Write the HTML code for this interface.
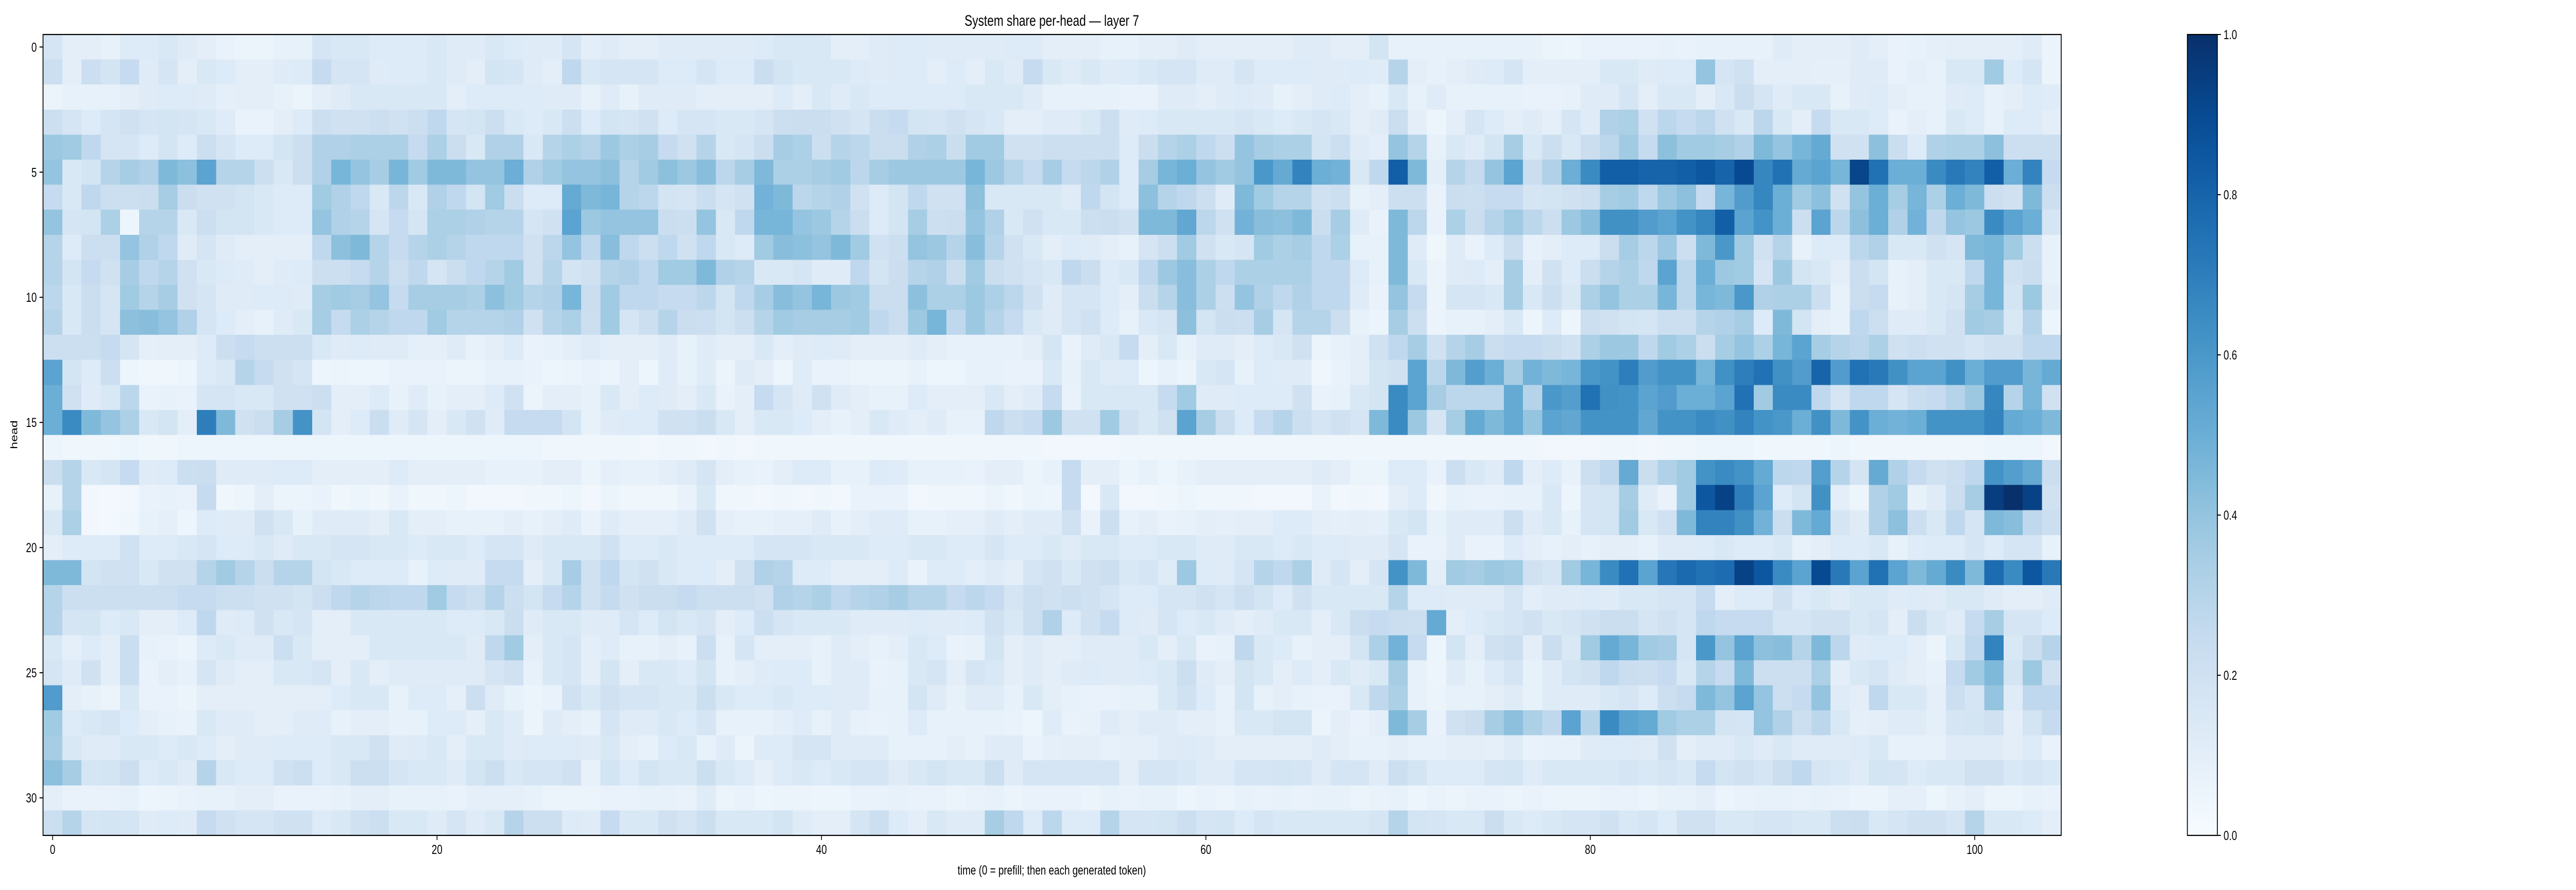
<!DOCTYPE html>
<html>
<head>
<meta charset="utf-8">
<meta name="viewport" content="width=6615, initial-scale=1">
<style>
html,body{margin:0;padding:0;background:#fff;width:100%;height:100%;overflow:hidden;}
svg{display:block;width:100vw;height:100vh;font-family:"Liberation Sans","DejaVu Sans",sans-serif;}
</style>
</head>
<body>
<svg id="chart" viewBox="0 0 6615 1728" preserveAspectRatio="none" xmlns="http://www.w3.org/2000/svg">
  <rect x="0" y="0" width="6615" height="1728" fill="#fff"/>
  <text x="2701" y="50" font-size="30" text-anchor="middle" fill="#000">System share per-head — layer 7</text>
  <g id="cells" shape-rendering="crispEdges"></g>
  <g id="axes"></g>
  <text x="2701" y="1698" font-size="25" text-anchor="middle" fill="#000">time (0 = prefill; then each generated token)</text>
  <text x="0" y="0" font-size="25" text-anchor="middle" fill="#000" transform="translate(44,844) rotate(-90)">head</text>
  <g id="colorbar"></g>
</svg>
<script>
const xTicks = [0, 20, 40, 60, 80, 100];
const yTicks = [0, 5, 10, 15, 20, 25, 30];
const cbTicks = [0.0, 0.2, 0.4, 0.6, 0.8, 1.0];
const cbTickLabels = ["0.0", "0.2", "0.4", "0.6", "0.8", "1.0"];
const vmin = 0, vmax = 1;

const row0 = [.17,.1,.1,.08,.13,.13,.15,.12,.1,.07,.06,.06,.08,.08,.17,.15,.15,.13,.13,.13,.15,.12,.12,.15,.13,.12, .12,.17,.1,.12,.1,.1,.12,.12,.12,.12,.12,.13,.15,.15,.15,.1,.1,.12,.13,.13,.12,.12,.12,.12,.13,.13, .1,.1,.1,.08,.08,.1,.1,.12,.1,.1,.1,.1,.1,.12,.12,.1,.1,.18,.08,.08,.08,.08,.08,.08,.08,.08, .06,.05,.07,.07,.07,.07,.08,.07,.08,.08,.08,.08,.12,.1,.1,.1,.12,.1,.07,.08,.09,.1,.1,.1,.1,.12,.06];
const row1 = [.22,.1,.22,.18,.25,.12,.17,.1,.15,.13,.1,.1,.12,.13,.25,.17,.17,.12,.13,.13,.15,.12,.1,.18,.17,.12, .1,.27,.15,.17,.17,.17,.13,.13,.17,.13,.13,.23,.18,.15,.15,.15,.13,.12,.13,.13,.1,.13,.1,.15,.12,.25, .15,.12,.15,.12,.13,.15,.17,.17,.12,.12,.17,.13,.13,.13,.12,.12,.13,.12,.3,.1,.08,.1,.12,.13,.17,.1, .1,.1,.1,.15,.15,.12,.13,.13,.4,.17,.2,.1,.1,.1,.09,.09,.12,.12,.07,.09,.08,.15,.15,.37,.13,.17,.06];
const row2 = [.06,.08,.08,.08,.1,.12,.13,.13,.12,.09,.1,.1,.08,.06,.1,.12,.15,.15,.15,.15,.15,.1,.13,.13,.13,.13, .12,.12,.08,.12,.08,.12,.12,.12,.1,.1,.1,.1,.13,.1,.15,.12,.15,.13,.13,.13,.13,.13,.15,.15,.15,.12, .08,.08,.08,.08,.07,.07,.12,.12,.1,.12,.13,.12,.08,.1,.12,.13,.1,.08,.15,.08,.12,.08,.08,.08,.08,.07, .07,.08,.12,.12,.17,.1,.15,.15,.1,.15,.23,.17,.12,.15,.15,.08,.12,.13,.1,.08,.08,.12,.13,.08,.1,.13,.12];
const row3 = [.22,.17,.13,.17,.2,.17,.18,.17,.15,.12,.07,.07,.1,.13,.22,.2,.2,.22,.2,.22,.27,.17,.18,.22,.15,.13, .15,.22,.13,.18,.17,.2,.13,.17,.17,.15,.15,.17,.22,.23,.23,.2,.17,.23,.25,.18,.17,.2,.17,.15,.1,.1, .12,.12,.15,.22,.12,.13,.15,.15,.15,.15,.17,.15,.13,.15,.17,.15,.1,.12,.23,.1,.05,.1,.17,.13,.1,.12, .09,.17,.12,.32,.33,.2,.28,.25,.28,.2,.15,.28,.15,.1,.25,.15,.15,.13,.07,.1,.08,.15,.13,.08,.13,.13,.1];
const row4 = [.38,.37,.27,.17,.17,.13,.18,.13,.22,.17,.13,.13,.18,.22,.32,.32,.33,.33,.33,.25,.33,.23,.15,.32,.32,.15, .3,.33,.3,.38,.33,.35,.25,.2,.3,.15,.17,.23,.35,.33,.22,.3,.28,.23,.23,.32,.33,.23,.37,.37,.2,.2, .22,.22,.22,.22,.13,.23,.3,.33,.27,.22,.4,.35,.33,.33,.18,.22,.12,.1,.4,.3,.08,.15,.12,.18,.35,.15, .22,.15,.23,.28,.37,.25,.42,.37,.37,.35,.32,.45,.4,.47,.52,.2,.2,.42,.23,.13,.32,.33,.33,.42,.22,.22,.22];
const row5 = [.4,.15,.18,.3,.35,.32,.45,.42,.55,.3,.3,.22,.15,.22,.32,.47,.4,.35,.47,.37,.45,.45,.4,.4,.5,.32, .37,.4,.4,.42,.3,.37,.42,.38,.43,.28,.35,.45,.33,.33,.35,.37,.28,.35,.38,.38,.38,.38,.47,.38,.3,.25, .35,.25,.28,.32,.13,.35,.47,.5,.4,.37,.4,.6,.52,.68,.5,.48,.15,.27,.82,.45,.1,.3,.25,.4,.55,.23, .32,.5,.65,.82,.82,.8,.8,.82,.85,.8,.9,.67,.75,.52,.55,.47,.92,.75,.5,.5,.65,.72,.68,.82,.5,.68,.25];
const row6 = [.25,.15,.27,.22,.22,.23,.35,.23,.2,.2,.18,.15,.13,.13,.37,.32,.27,.15,.28,.15,.32,.27,.18,.37,.23,.13, .13,.52,.45,.47,.3,.28,.18,.17,.23,.17,.2,.48,.45,.28,.3,.32,.2,.13,.18,.27,.2,.2,.42,.15,.15,.15, .15,.12,.27,.18,.13,.42,.3,.27,.22,.12,.45,.37,.3,.3,.2,.22,.08,.1,.22,.22,.07,.23,.22,.25,.25,.17, .18,.2,.22,.35,.37,.27,.38,.42,.25,.47,.58,.67,.5,.37,.42,.2,.4,.5,.35,.47,.33,.5,.45,.22,.2,.45,.22];
const row7 = [.4,.17,.18,.33,.05,.3,.3,.15,.22,.18,.18,.15,.13,.13,.4,.32,.3,.17,.25,.17,.33,.33,.32,.3,.3,.17, .2,.55,.38,.4,.4,.4,.23,.22,.4,.15,.27,.47,.47,.4,.38,.3,.23,.13,.18,.35,.22,.23,.4,.32,.15,.2, .15,.15,.22,.23,.2,.45,.45,.53,.28,.2,.48,.43,.42,.45,.23,.35,.12,.07,.45,.28,.07,.33,.23,.3,.37,.28, .22,.38,.43,.63,.63,.58,.55,.62,.67,.82,.55,.62,.5,.22,.55,.28,.42,.5,.32,.48,.27,.4,.38,.65,.55,.5,.17];
const row8 = [.3,.13,.22,.22,.4,.32,.27,.12,.17,.12,.1,.1,.1,.1,.27,.42,.45,.3,.25,.3,.33,.3,.27,.27,.27,.2, .28,.4,.27,.43,.27,.22,.27,.2,.27,.15,.13,.37,.43,.42,.4,.45,.37,.2,.22,.4,.38,.3,.43,.3,.2,.15, .1,.13,.12,.1,.08,.17,.22,.37,.2,.15,.17,.37,.33,.35,.27,.33,.08,.08,.45,.12,.04,.12,.07,.13,.23,.08, .1,.13,.13,.23,.35,.28,.38,.22,.45,.6,.37,.2,.3,.08,.13,.13,.28,.32,.15,.15,.2,.17,.45,.47,.37,.22,.08];
const row9 = [.3,.18,.25,.2,.35,.27,.3,.2,.15,.13,.12,.1,.12,.13,.22,.22,.25,.3,.22,.27,.17,.23,.27,.3,.37,.2, .3,.18,.2,.3,.32,.27,.37,.37,.45,.32,.3,.15,.15,.17,.12,.12,.27,.18,.23,.3,.32,.23,.37,.23,.2,.17, .15,.27,.23,.13,.15,.27,.38,.43,.33,.27,.33,.33,.33,.33,.27,.27,.13,.08,.45,.15,.06,.12,.13,.1,.35,.1, .2,.13,.23,.3,.33,.27,.55,.28,.5,.38,.37,.17,.38,.18,.15,.1,.23,.18,.08,.1,.15,.15,.27,.47,.2,.23,.08];
const row10 = [.28,.15,.23,.17,.37,.3,.35,.2,.17,.12,.12,.13,.13,.12,.35,.37,.35,.4,.25,.35,.35,.35,.33,.42,.37,.3, .32,.47,.23,.37,.27,.27,.25,.25,.28,.18,.27,.35,.43,.4,.47,.38,.37,.23,.23,.42,.33,.33,.38,.33,.28,.2, .12,.17,.17,.13,.1,.23,.3,.43,.33,.22,.4,.32,.27,.32,.27,.27,.12,.07,.4,.25,.06,.17,.17,.15,.35,.15, .22,.15,.33,.4,.33,.33,.47,.28,.47,.45,.6,.32,.33,.33,.22,.08,.23,.25,.08,.1,.15,.17,.35,.47,.18,.38,.1];
const row11 = [.3,.15,.23,.17,.42,.43,.4,.32,.17,.13,.1,.08,.12,.15,.35,.25,.33,.3,.27,.27,.37,.3,.3,.3,.32,.2, .3,.33,.22,.37,.17,.22,.3,.23,.22,.18,.22,.3,.37,.35,.35,.35,.37,.27,.23,.38,.47,.27,.38,.3,.25,.15, .12,.17,.2,.13,.08,.15,.17,.42,.18,.23,.22,.35,.17,.3,.3,.22,.08,.06,.35,.22,.06,.08,.08,.1,.15,.05, .13,.05,.22,.2,.18,.17,.22,.22,.3,.32,.35,.13,.45,.18,.1,.08,.27,.22,.12,.12,.15,.2,.37,.35,.15,.3,.05];
const row12 = [.22,.22,.22,.25,.17,.09,.1,.1,.13,.22,.25,.22,.22,.22,.15,.12,.13,.12,.12,.09,.09,.12,.08,.1,.13,.07, .08,.1,.12,.1,.1,.1,.12,.08,.12,.1,.1,.15,.1,.12,.13,.12,.1,.1,.1,.12,.1,.08,.08,.08,.08,.1, .17,.07,.12,.15,.25,.1,.15,.08,.12,.12,.1,.13,.15,.2,.06,.08,.1,.2,.27,.35,.2,.3,.35,.23,.25,.25, .23,.2,.33,.38,.38,.27,.37,.33,.23,.35,.4,.33,.47,.55,.35,.3,.28,.33,.2,.22,.2,.2,.17,.2,.2,.27,.27];
const row13 = [.55,.18,.13,.22,.05,.04,.04,.05,.13,.15,.3,.25,.2,.17,.05,.06,.05,.05,.07,.07,.07,.06,.06,.08,.08,.07, .05,.06,.07,.06,.1,.05,.12,.08,.12,.06,.12,.1,.05,.12,.07,.07,.06,.06,.06,.08,.05,.05,.08,.08,.07,.07, .15,.08,.15,.12,.13,.05,.08,.06,.15,.17,.08,.13,.12,.12,.04,.07,.1,.18,.2,.55,.28,.45,.57,.5,.35,.48, .45,.47,.6,.62,.7,.58,.62,.62,.47,.63,.7,.75,.63,.58,.8,.58,.75,.72,.63,.55,.55,.63,.5,.58,.58,.47,.52];
const row14 = [.5,.2,.12,.15,.28,.07,.08,.07,.17,.17,.15,.15,.2,.2,.22,.1,.1,.13,.08,.12,.08,.1,.1,.13,.2,.06, .1,.1,.08,.15,.1,.13,.12,.1,.15,.07,.1,.25,.17,.12,.2,.12,.1,.08,.08,.13,.1,.1,.1,.15,.1,.12, .25,.07,.15,.15,.15,.15,.25,.37,.12,.12,.13,.13,.13,.2,.07,.08,.15,.18,.65,.55,.35,.28,.28,.28,.52,.3, .6,.57,.75,.63,.62,.55,.58,.5,.5,.55,.75,.37,.65,.65,.27,.17,.27,.27,.17,.23,.25,.3,.38,.67,.3,.47,.2];
const row15 = [.5,.65,.45,.4,.33,.15,.18,.1,.7,.45,.2,.23,.35,.62,.18,.1,.13,.23,.12,.17,.1,.15,.2,.12,.25,.25, .25,.18,.08,.12,.13,.13,.2,.2,.23,.15,.1,.15,.15,.13,.1,.08,.1,.15,.12,.1,.12,.08,.08,.27,.22,.25, .38,.2,.2,.37,.2,.15,.2,.55,.35,.23,.13,.25,.3,.22,.17,.2,.17,.45,.65,.38,.17,.35,.52,.45,.52,.4, .55,.53,.62,.62,.62,.53,.62,.62,.65,.63,.68,.62,.6,.5,.63,.45,.62,.5,.48,.5,.62,.62,.62,.68,.52,.5,.45];
const row16 = [.05,.04,.04,.04,.05,.04,.04,.05,.05,.05,.05,.05,.05,.05,.05,.05,.05,.05,.05,.05,.05,.05,.05,.05,.05,.05, .04,.04,.04,.04,.04,.03,.04,.04,.03,.04,.03,.04,.04,.04,.04,.04,.04,.04,.04,.04,.04,.04,.04,.04,.04,.04, .03,.03,.03,.03,.04,.04,.04,.04,.04,.04,.04,.04,.04,.04,.04,.04,.04,.04,.04,.04,.04,.04,.04,.04,.04,.04, .03,.03,.03,.04,.04,.03,.04,.04,.05,.05,.05,.04,.04,.04,.04,.05,.04,.04,.04,.04,.04,.04,.04,.05,.05,.05,.03];
const row17 = [.23,.3,.15,.17,.25,.12,.13,.22,.23,.12,.12,.12,.13,.13,.1,.1,.1,.1,.13,.1,.1,.1,.1,.08,.08,.08, .1,.1,.06,.09,.08,.08,.1,.12,.17,.1,.08,.07,.1,.13,.13,.08,.08,.13,.12,.08,.08,.08,.07,.1,.1,.06, .08,.25,.1,.1,.06,.08,.05,.08,.1,.1,.1,.1,.1,.1,.12,.1,.06,.06,.13,.13,.07,.22,.15,.12,.27,.1, .13,.08,.22,.27,.52,.23,.32,.37,.62,.65,.62,.52,.28,.27,.57,.3,.18,.52,.32,.25,.2,.22,.27,.62,.57,.52,.23];
const row18 = [.08,.3,.03,.02,.03,.07,.08,.07,.25,.04,.05,.1,.06,.06,.07,.04,.05,.04,.07,.04,.04,.05,.03,.03,.03,.04, .04,.05,.03,.06,.04,.04,.04,.07,.15,.04,.04,.03,.04,.03,.04,.03,.07,.07,.07,.03,.04,.04,.04,.06,.04,.06, .05,.25,.02,.15,.03,.03,.04,.05,.04,.04,.04,.03,.03,.03,.07,.03,.04,.03,.1,.13,.04,.08,.07,.07,.08,.08, .15,.05,.17,.18,.35,.12,.07,.37,.85,.93,.7,.55,.13,.18,.63,.1,.05,.32,.37,.08,.12,.23,.35,.95,1.0,.93,.2];
const row19 = [.15,.33,.03,.02,.04,.08,.09,.05,.13,.12,.12,.2,.15,.08,.12,.12,.12,.1,.15,.1,.1,.08,.08,.08,.1,.08, .1,.12,.07,.12,.09,.09,.09,.12,.2,.09,.08,.08,.09,.09,.12,.08,.1,.12,.12,.08,.08,.09,.09,.12,.1,.12, .12,.2,.07,.22,.08,.1,.07,.08,.1,.09,.1,.1,.13,.13,.1,.09,.1,.09,.15,.18,.08,.12,.12,.12,.22,.12, .15,.08,.17,.18,.37,.15,.2,.45,.68,.68,.63,.48,.23,.45,.52,.17,.12,.32,.42,.22,.15,.27,.17,.45,.43,.27,.22];
const row20 = [.1,.13,.13,.13,.2,.13,.13,.15,.17,.13,.13,.15,.12,.15,.15,.17,.17,.15,.15,.13,.15,.15,.13,.17,.17,.12, .15,.15,.15,.2,.13,.13,.15,.13,.13,.13,.13,.17,.17,.17,.15,.15,.15,.13,.13,.15,.15,.13,.13,.17,.13,.13, .15,.12,.15,.15,.13,.13,.15,.15,.12,.12,.15,.15,.13,.15,.13,.13,.12,.12,.17,.07,.07,.12,.07,.07,.13,.1, .08,.1,.08,.1,.1,.08,.12,.12,.13,.15,.13,.13,.15,.08,.1,.13,.13,.15,.08,.12,.13,.13,.17,.13,.17,.17,.08];
const row21 = [.45,.45,.18,.2,.2,.15,.2,.2,.3,.37,.3,.23,.3,.3,.18,.15,.13,.13,.13,.08,.13,.12,.12,.25,.25,.1, .15,.35,.2,.27,.18,.2,.15,.13,.13,.1,.2,.32,.3,.13,.13,.1,.1,.1,.13,.07,.13,.13,.1,.12,.1,.17, .2,.15,.2,.22,.15,.17,.12,.38,.13,.12,.17,.3,.27,.33,.12,.17,.1,.17,.62,.45,.1,.37,.35,.38,.37,.2, .17,.37,.47,.65,.75,.55,.73,.78,.75,.77,.93,.85,.65,.55,.9,.72,.55,.75,.55,.45,.52,.65,.45,.77,.65,.85,.72];
const row22 = [.3,.22,.22,.22,.22,.22,.22,.25,.25,.22,.22,.2,.2,.18,.22,.27,.3,.28,.27,.27,.37,.25,.22,.3,.22,.18, .25,.3,.2,.25,.2,.23,.23,.25,.22,.22,.22,.2,.32,.3,.33,.27,.3,.32,.35,.3,.3,.25,.28,.25,.17,.22, .2,.22,.2,.17,.13,.13,.17,.17,.2,.17,.22,.18,.13,.2,.15,.15,.15,.15,.3,.13,.13,.12,.12,.12,.17,.1, .12,.12,.13,.12,.15,.15,.17,.17,.25,.1,.13,.13,.2,.13,.15,.12,.15,.15,.12,.13,.12,.15,.15,.12,.1,.1,.12];
const row23 = [.3,.17,.18,.13,.15,.1,.1,.13,.27,.12,.13,.2,.15,.17,.1,.1,.15,.15,.15,.15,.15,.13,.13,.15,.23,.12, .15,.15,.12,.12,.17,.13,.18,.15,.17,.1,.13,.22,.17,.15,.15,.15,.12,.12,.12,.13,.12,.12,.13,.2,.15,.22, .32,.13,.2,.25,.13,.12,.17,.13,.15,.12,.1,.12,.15,.15,.1,.15,.23,.25,.23,.22,.52,.1,.13,.15,.17,.2, .15,.17,.2,.23,.23,.17,.2,.17,.27,.25,.25,.25,.17,.17,.2,.2,.15,.17,.1,.23,.15,.12,.25,.35,.17,.17,.13];
const row24 = [.15,.09,.13,.1,.23,.08,.07,.06,.13,.15,.12,.12,.22,.15,.1,.1,.1,.15,.15,.15,.15,.15,.12,.27,.37,.1, .15,.17,.1,.12,.08,.08,.1,.08,.22,.08,.17,.1,.1,.1,.08,.12,.1,.08,.1,.15,.13,.07,.08,.18,.1,.12, .1,.1,.12,.12,.12,.15,.1,.15,.07,.08,.27,.15,.13,.08,.1,.1,.18,.33,.48,.25,.05,.18,.1,.2,.22,.1, .23,.15,.37,.52,.47,.37,.35,.17,.6,.4,.55,.42,.43,.3,.45,.28,.12,.13,.13,.1,.06,.15,.27,.68,.15,.23,.3];
const row25 = [.17,.12,.2,.1,.23,.07,.1,.08,.17,.12,.1,.1,.15,.15,.17,.1,.15,.1,.12,.12,.12,.12,.12,.17,.2,.08, .15,.17,.1,.18,.1,.15,.15,.13,.18,.08,.1,.12,.13,.13,.08,.12,.12,.07,.08,.15,.17,.1,.17,.15,.1,.12, .1,.12,.13,.12,.12,.13,.15,.22,.12,.1,.18,.15,.1,.13,.1,.15,.12,.15,.35,.08,.05,.12,.08,.13,.17,.08, .12,.18,.2,.27,.23,.22,.25,.15,.3,.25,.45,.22,.22,.22,.33,.1,.15,.17,.12,.1,.08,.25,.37,.45,.18,.38,.2];
const row26 = [.58,.1,.08,.06,.15,.07,.07,.06,.1,.1,.1,.1,.1,.1,.1,.13,.15,.15,.08,.13,.13,.09,.22,.12,.08,.06, .07,.2,.15,.2,.17,.17,.15,.15,.22,.15,.13,.13,.15,.13,.13,.12,.12,.08,.08,.18,.12,.08,.12,.12,.08,.15, .1,.08,.07,.07,.08,.08,.15,.2,.13,.08,.18,.08,.1,.08,.07,.07,.15,.27,.33,.08,.06,.08,.08,.1,.12,.08, .12,.12,.12,.15,.17,.13,.22,.25,.45,.4,.55,.4,.22,.25,.4,.12,.1,.27,.15,.15,.09,.22,.17,.4,.12,.27,.27];
const row27 = [.37,.13,.15,.17,.13,.1,.08,.07,.15,.12,.12,.1,.1,.12,.12,.08,.1,.1,.08,.08,.13,.13,.09,.15,.12,.06, .12,.1,.08,.17,.12,.12,.15,.13,.17,.08,.08,.08,.1,.12,.08,.12,.08,.07,.08,.13,.08,.08,.08,.08,.07,.05, .12,.07,.08,.12,.1,.12,.12,.1,.1,.08,.15,.15,.18,.18,.06,.1,.07,.1,.45,.35,.07,.2,.23,.35,.42,.33, .27,.55,.3,.65,.55,.52,.37,.33,.33,.18,.17,.4,.32,.22,.28,.15,.09,.1,.12,.12,.09,.17,.18,.2,.1,.18,.25];
const row28 = [.35,.15,.12,.12,.15,.15,.13,.15,.13,.1,.12,.12,.13,.13,.13,.15,.15,.2,.12,.13,.15,.1,.15,.15,.12,.13, .13,.13,.12,.15,.1,.08,.13,.15,.08,.12,.06,.13,.13,.17,.17,.12,.12,.12,.08,.08,.08,.1,.08,.12,.12,.07, .09,.1,.1,.08,.09,.09,.12,.13,.12,.1,.1,.1,.1,.1,.12,.1,.08,.08,.1,.08,.08,.1,.1,.09,.12,.07, .08,.08,.12,.13,.13,.12,.2,.1,.12,.12,.15,.12,.15,.12,.12,.12,.13,.15,.08,.08,.08,.12,.12,.12,.1,.13,.07];
const row29 = [.42,.35,.17,.18,.22,.13,.15,.12,.3,.15,.13,.13,.2,.22,.13,.15,.22,.22,.17,.15,.15,.12,.18,.22,.15,.17, .17,.2,.08,.18,.13,.18,.15,.15,.22,.15,.13,.09,.13,.15,.13,.15,.17,.17,.12,.15,.18,.15,.15,.22,.12,.17, .17,.17,.17,.17,.1,.17,.17,.15,.12,.12,.17,.17,.18,.17,.12,.17,.17,.12,.22,.18,.13,.13,.13,.17,.18,.12, .15,.15,.15,.15,.17,.15,.17,.15,.25,.18,.2,.17,.23,.27,.17,.15,.12,.18,.17,.13,.15,.15,.2,.2,.15,.17,.15];
const row30 = [.1,.07,.07,.07,.08,.05,.06,.07,.08,.08,.1,.1,.07,.07,.07,.08,.1,.1,.08,.08,.08,.07,.09,.09,.09,.08, .06,.06,.06,.07,.07,.08,.08,.07,.12,.06,.07,.05,.06,.06,.05,.05,.07,.07,.08,.07,.07,.06,.07,.08,.06,.07, .07,.07,.06,.08,.07,.08,.08,.05,.07,.06,.08,.07,.08,.07,.08,.08,.06,.07,.08,.05,.07,.06,.07,.07,.06,.07, .06,.06,.06,.07,.07,.06,.08,.08,.1,.06,.07,.08,.08,.07,.08,.07,.06,.06,.09,.09,.05,.08,.1,.06,.06,.08,.07];
const row31 = [.22,.3,.17,.18,.17,.12,.13,.12,.25,.2,.17,.17,.2,.2,.13,.15,.2,.22,.15,.15,.12,.17,.12,.15,.3,.22, .22,.13,.12,.25,.15,.15,.2,.17,.22,.15,.15,.15,.18,.12,.1,.1,.17,.22,.13,.1,.15,.12,.12,.35,.27,.13, .28,.13,.13,.3,.17,.17,.18,.22,.17,.18,.13,.17,.15,.15,.15,.15,.15,.17,.3,.18,.17,.15,.15,.23,.15,.13, .15,.17,.17,.2,.15,.17,.13,.2,.2,.15,.15,.17,.17,.15,.15,.22,.23,.15,.17,.2,.2,.17,.3,.15,.15,.13,.1];

const values = [row0,row1,row2,row3,row4,row5,row6,row7,row8,row9,row10,row11,row12,row13,row14,row15,row16,row17,row18,row19,row20,row21,row22,row23,row24,row25,row26,row27,row28,row29,row30,row31];

const NS = "http://www.w3.org/2000/svg";
const PL = 110.5, PR = 5293, PT = 67, PB = 1622;
const nRows = values.length;
const nCols = 105;
const cw = (PR - PL) / nCols, ch = (PB - PT) / nRows;
function xScale(c) { return PL + c * cw; }
function yScale(r) { return PT + r * ch; }

const stops = [[247,251,255],[222,235,247],[198,219,239],[158,202,225],[107,174,214],[66,146,198],[33,113,181],[8,81,156],[8,48,107]];
function color(v) {
  let t = (v - vmin) / (vmax - vmin);
  t = Math.max(0, Math.min(1, t));
  const p = t * (stops.length - 1);
  const i = Math.min(stops.length - 2, Math.floor(p));
  const f = p - i;
  const a = stops[i], b = stops[i + 1];
  const c = a.map((x, k) => Math.round(x + (b[k] - x) * f));
  return "rgb(" + c.join(",") + ")";
}
function mk(tag, attrs, parent) {
  const el = document.createElementNS(NS, tag);
  for (const k in attrs) el.setAttribute(k, attrs[k]);
  parent.appendChild(el);
  return el;
}

const cells = document.getElementById("cells");
for (let r = 0; r < nRows; r++) {
  const row = values[r];
  for (let c = 0; c < row.length && c < nCols; c++) {
    const w = (c === nCols - 1) ? cw : cw + 0.6;
    const h = (r === nRows - 1) ? ch : ch + 0.6;
    const el = mk("rect", {x: xScale(c).toFixed(2), y: yScale(r).toFixed(2), width: w.toFixed(2), height: h.toFixed(2), fill: color(row[c])}, cells);
    
    
  }
}

const axes = document.getElementById("axes");
const frame = mk("rect", {x: PL, y: PT, width: PR - PL, height: PB - PT, fill: "none", stroke: "#000", "stroke-width": 2.2}, axes);



for (const t of xTicks) {
  const x = xScale(t + 0.5);
  const tk = mk("line", {x1: x, x2: x, y1: PB, y2: PB + 9, stroke: "#000", "stroke-width": 2}, axes);
  
  
  const lb = mk("text", {x: x, y: PB + 36, "font-size": 25, "text-anchor": "middle", fill: "#000"}, axes);
  lb.textContent = String(t);
  
  
}
for (const t of yTicks) {
  const y = yScale(t + 0.5);
  const tk = mk("line", {x1: PL - 9, x2: PL, y1: y, y2: y, stroke: "#000", "stroke-width": 2}, axes);
  
  
  const lb = mk("text", {x: PL - 16, y: y + 9, "font-size": 25, "text-anchor": "end", fill: "#000"}, axes);
  lb.textContent = String(t);
  
  
}

const cb = document.getElementById("colorbar");
const CL = 5617, CR = 5694;
function cbY(v) { return PB - (v - vmin) / (vmax - vmin) * (PB - PT); }
const grad = mk("defs", {}, cb);
const lg = mk("linearGradient", {id: "cbgrad", x1: 0, y1: 1, x2: 0, y2: 0}, grad);
for (let i = 0; i <= 20; i++) {
  mk("stop", {offset: (i / 20), "stop-color": color(vmin + (vmax - vmin) * i / 20)}, lg);
}
const cbr = mk("rect", {x: CL, y: PT, width: CR - CL, height: PB - PT, fill: "url(#cbgrad)", stroke: "#000", "stroke-width": 2.2}, cb);


cbTicks.forEach((t, i) => {
  const y = cbY(t);
  const tk = mk("line", {x1: CR, x2: CR + 9, y1: y, y2: y, stroke: "#000", "stroke-width": 2}, cb);
  
  
  const lb = mk("text", {x: CR + 16, y: y + 9, "font-size": 25, "text-anchor": "start", fill: "#000"}, cb);
  lb.textContent = cbTickLabels[i];
  
  
});
</script>
</body>
</html>
